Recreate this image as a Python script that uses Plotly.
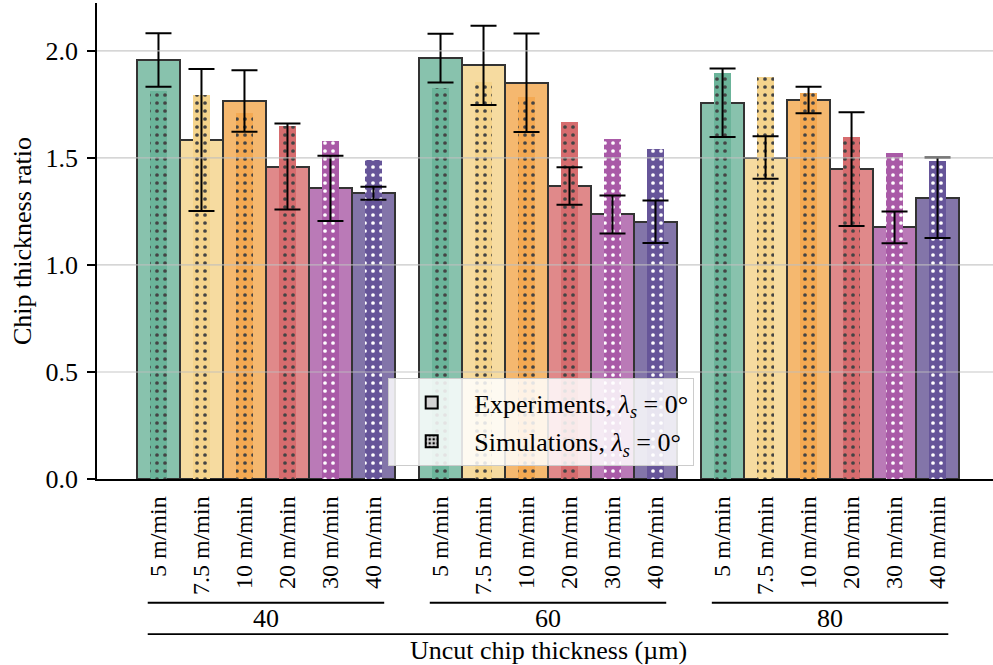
import numpy as np
import plotly.graph_objects as go

# ---------------- data ----------------
groups = ["40", "60", "80"]                     # uncut chip thickness (µm)
speeds = ["5 m/min", "7.5 m/min", "10 m/min", "20 m/min", "30 m/min", "40 m/min"]

exp_40 = [1.958, 1.584, 1.766, 1.460, 1.358, 1.335]
exp_60 = [1.966, 1.933, 1.851, 1.369, 1.236, 1.202]
exp_80 = [1.758, 1.502, 1.771, 1.448, 1.176, 1.314]

err_40 = [0.125, 0.332, 0.144, 0.201, 0.152, 0.030]
err_60 = [0.114, 0.185, 0.230, 0.088, 0.089, 0.099]
err_80 = [0.160, 0.099, 0.062, 0.266, 0.074, 0.188]

sim_40 = [1.813, 1.793, 1.709, 1.650, 1.579, 1.489]
sim_60 = [1.826, 1.855, 1.784, 1.667, 1.589, 1.542]
sim_80 = [1.899, 1.880, 1.805, 1.597, 1.522, 1.486]

yticks = [0.0, 0.5, 1.0, 1.5, 2.0]

# ---------------- styling ----------------
exp_colors = ["#88C2AD", "#F6DBA0", "#F5B86F", "#E0898A", "#BA7AB7", "#8375A9"]
sim_colors = ["#6BB49A", "#F5D48C", "#F4A952", "#D66C6E", "#A95AA7", "#665599"]
FONT = "Liberation Serif"
FS = 26
FS_TICK_X = 24
GROUP_STEP = 6.56
XR = [-1.43, 19.41]
YR = [0, 2.224]

exp_vals = exp_40 + exp_60 + exp_80
err_vals = err_40 + err_60 + err_80
sim_vals = sim_40 + sim_60 + sim_80
xpos = [g * GROUP_STEP + i for g in range(len(groups)) for i in range(len(speeds))]
ticktext = speeds * len(groups)
ecol = exp_colors * len(groups)
scol = sim_colors * len(groups)

fig = go.Figure()
fig.add_trace(go.Bar(
    x=xpos, y=exp_vals, width=1.0, showlegend=False,
    marker=dict(color=ecol, line=dict(color="#333333", width=2)),
))
fig.add_trace(go.Bar(
    x=xpos, y=sim_vals, width=0.4, showlegend=False,
    marker=dict(color=scol, line=dict(width=0),
                pattern=dict(shape=".", fgcolor="black", fgopacity=1, size=8,
                             solidity=0.17, fillmode="overlay")),
))
fig.add_trace(go.Scatter(
    x=xpos, y=exp_vals, mode="markers", showlegend=False,
    marker=dict(size=1, color="rgba(0,0,0,0)"),
    error_y=dict(type="data", array=err_vals, color="black", thickness=2, width=13),
))

# legend entries
fig.add_trace(go.Bar(
    x=[None], y=[None], name="Experiments, <i>λ</i><sub><i>s</i></sub> = 0°",
    legendgroup="a",
    marker=dict(color="#D3D3D3", line=dict(color="black", width=2)),
))
fig.add_trace(go.Bar(
    x=[None], y=[None], name="Simulations, <i>λ</i><sub><i>s</i></sub> = 0°",
    legendgroup="b",
    marker=dict(color="#D3D3D3", line=dict(color="black", width=2),
                pattern=dict(shape=".", fgcolor="black", fgopacity=1, size=5,
                             solidity=0.3, fillmode="overlay")),
))

def xp(v):
    return (v - XR[0]) / (XR[1] - XR[0])

shapes = []
# gridlines drawn above bars
for t in yticks[1:]:
    shapes.append(dict(type="line", xref="paper", yref="y", x0=0, x1=1, y0=t, y1=t,
                       line=dict(color="rgba(190,190,190,0.85)", width=1.2), layer="above"))
annotations = []
for g, name in enumerate(groups):
    a = g * GROUP_STEP - 0.25
    b = g * GROUP_STEP + len(speeds) - 1 + 0.25
    shapes.append(dict(type="line", xref="paper", yref="paper", x0=xp(a), x1=xp(b),
                       y0=-0.260, y1=-0.260, line=dict(color="black", width=1.8)))
    annotations.append(dict(text=name, x=(a + b) / 2, xref="x", y=-0.294, yref="paper",
                            showarrow=False, font=dict(family=FONT, size=FS, color="black"),
                            xanchor="center", yanchor="middle"))
a0 = -0.25
b0 = (len(groups) - 1) * GROUP_STEP + len(speeds) - 1 + 0.25
shapes.append(dict(type="line", xref="paper", yref="paper", x0=xp(a0), x1=xp(b0),
                   y0=-0.326, y1=-0.326, line=dict(color="black", width=1.8)))
annotations.append(dict(text="Uncut chip thickness (µm)", x=(a0 + b0) / 2, xref="x",
                        y=-0.360, yref="paper", showarrow=False,
                        font=dict(family=FONT, size=FS, color="black"),
                        xanchor="center", yanchor="middle"))
annotations.append(dict(text="Chip thickness ratio", x=-0.0837, xref="paper", y=0.5,
                        yref="paper", textangle=-90, showarrow=False,
                        font=dict(family=FONT, size=FS, color="black"),
                        xanchor="center", yanchor="middle"))

fig.update_layout(
    width=993, height=665,
    margin=dict(l=97, r=0, t=3, b=186, autoexpand=False),
    paper_bgcolor="white", plot_bgcolor="white",
    barmode="overlay", bargap=0,
    font=dict(family=FONT, size=FS, color="black"),
    shapes=shapes, annotations=annotations,
    legend=dict(x=0.325, y=0.212, xanchor="left", yanchor="top",
                bgcolor="rgba(255,255,255,0.85)", bordercolor="#cccccc", borderwidth=1,
                font=dict(family=FONT, size=FS), tracegroupgap=2, itemwidth=75),
    xaxis=dict(range=XR, tickvals=xpos, ticktext=ticktext, tickangle=-90,
               showgrid=False, zeroline=False, showline=True, linecolor="black",
               linewidth=1.5, ticks="", ticklabelstandoff=6, automargin=False,
               tickfont=dict(family=FONT, size=FS_TICK_X)),
    yaxis=dict(range=YR, tickvals=yticks, tickformat=".1f", showgrid=False,
               zeroline=False, showline=True, linecolor="black", linewidth=1.5,
               ticks="outside", ticklen=8, tickwidth=1.5, tickcolor="black",
               ticklabelstandoff=4, automargin=False,
               tickfont=dict(family=FONT, size=FS)),
)

fig.write_html("out.html", config={"displayModeBar": False},
               post_script="document.body.style.margin='0';document.body.style.padding='0';")
